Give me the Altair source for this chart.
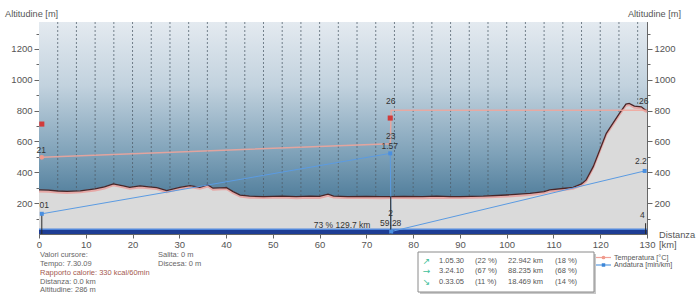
import altair as alt
import pandas as pd

FONT = "Liberation Sans"

# ---------------- data ----------------
profile_km = [0, 2, 4, 6, 8.8, 12, 14, 15.9, 18, 19.4, 21.6, 23.5, 25.2, 27.3, 30.1, 32.3,
              34.4, 36.1, 37.2, 40.1, 41.5, 43, 45, 48, 52, 55, 58, 60, 61.8, 63, 66, 70,
              73, 75, 78, 82, 85, 88, 90, 95, 100, 105, 108, 109.2, 112, 114.2, 116, 117,
              118.5, 119.9, 121.3, 122.7, 124.1, 125.5, 126.2, 127.3, 128.8, 129.5, 130]
profile_m = [286, 284, 279, 276, 280, 292, 305, 325, 312, 303, 312, 306, 301, 281, 303, 314,
             303, 318, 297, 301, 275, 252, 245, 243, 246, 242, 245, 244, 258, 246, 243, 244,
             242, 243, 244, 242, 245, 243, 243, 246, 253, 263, 275, 286, 295, 303, 325, 351,
             437, 545, 653, 717, 782, 842, 847, 829, 825, 808, 800]

temp_km = [0.6, 75.1, 75.3, 130]
temp_m = [497, 585, 803, 803]

pace_km = [0.6, 75.1, 75.3, 129.5]
pace_m = [131, 523, 16, 409]

hr_km = [0.6, 75.1]
hr_m = [713, 752]

cursor_km = [0.6, 75.2, 129.7]
cursor_top_m = [131, 244, 70]

grid_km = list(range(4, 129, 4))
x_ticks = list(range(0, 131, 10))
y_ticks = list(range(100, 1301, 100))

label_text = ["21", "01", "26", "23", "1.57", "2", "59.28", "2.2", "4", "26", "73 % 129.7 km"]
label_km = [0.5, 1.1, 75.2, 75.2, 75.0, 75.2, 75.2, 128.7, 129.0, 129.3, 64.8]
label_m = [545, 189, 861, 635, 571, 135, 72, 473, 124, 861, 60]

split_icons = ["\u2197", "\u2192", "\u2198"]
split_times = ["1.05.30", "3.24.10", "0.33.05"]
time_pct = ["(22 %)", "(67 %)", "(11 %)"]
split_km = ["22.942 km", "88.235 km", "18.469 km"]
km_pct = ["(18 %)", "(68 %)", "(14 %)"]

info_left = ["Valori cursore:", "Tempo: 7.30.09", "Rapporto calorie: 330 kcal/60min",
             "Distanza: 0.0 km", "Altitudine: 286 m"]
info_right = ["Salita: 0 m", "Discesa: 0 m"]

# ---------------- scales ----------------
W, H = 608, 212
X = alt.Scale(domain=[0, 130], nice=False, zero=False)
Y = alt.Scale(domain=[0, 1375], nice=False, zero=False)

axis_common = dict(labelFont=FONT, labelFontSize=9.5, labelColor="#555", domainColor="#666",
                   tickColor="#666", grid=False, title=None)
tick_cond = {"condition": {"test": "datum.value % 200 === 0", "value": 5}, "value": 3}
label_expr = "datum.value % 200 === 0 ? format(datum.value, 'd') : ''"

prof = pd.DataFrame({"km": profile_km, "m": profile_m})

bg = alt.Chart(pd.DataFrame({"a": [0], "b": [130], "c": [0], "d": [1375]})).mark_rect(
    fill=alt.LinearGradient(
        gradient="linear",
        stops=[alt.GradientStop(color="#e4eaf0", offset=0),
               alt.GradientStop(color="#c2d2de", offset=0.3),
               alt.GradientStop(color="#7fa2b9", offset=0.62),
               alt.GradientStop(color="#2c6184", offset=1)],
        x1=0, x2=0, y1=0, y2=1)
).encode(x=alt.X("a:Q", scale=X, axis=None), x2="b:Q",
         y=alt.Y("c:Q", scale=Y, axis=None), y2="d:Q")

grid = alt.Chart(pd.DataFrame({"km": grid_km})).mark_rule(
    color="#4f5d69", strokeDash=[2, 2], strokeWidth=1, opacity=0.75
).encode(x=alt.X("km:Q", scale=X, axis=None))

terrain = alt.Chart(prof).mark_area(color="#dadada", opacity=1).encode(
    x=alt.X("km:Q", scale=X,
            axis=alt.Axis(values=x_ticks, format="d", tickSize=4, labelPadding=1,
                          labelFlush=False, **axis_common)),
    y=alt.Y("m:Q", scale=Y,
            axis=alt.Axis(values=y_ticks, labelExpr=label_expr, tickSize=tick_cond,
                          labelPadding=2, **axis_common)),
)
terrain_pink = alt.Chart(prof).mark_line(color="#e6a8a6", strokeWidth=2, yOffset=1.5).encode(
    x=alt.X("km:Q", scale=X, axis=None), y=alt.Y("m:Q", scale=Y, axis=None))
terrain_line = alt.Chart(prof).mark_line(color="#4a2628", strokeWidth=1.3).encode(
    x=alt.X("km:Q", scale=X, axis=None), y=alt.Y("m:Q", scale=Y, axis=None))

bar_df = pd.DataFrame({"a": [0], "b": [130], "c": [0], "d": [30]})
blue_bar = alt.Chart(bar_df).mark_rect(color="#1e3d94").encode(
    x=alt.X("a:Q", scale=X, axis=None), x2="b:Q",
    y=alt.Y("c:Q", scale=Y, axis=None), y2="d:Q")
blue_top = alt.Chart(bar_df).mark_rule(color="#5288dc", strokeWidth=1.5).encode(
    x=alt.X("a:Q", scale=X, axis=None), x2="b:Q", y=alt.Y("d:Q", scale=Y, axis=None))

temp_df = pd.DataFrame({"km": temp_km, "m": temp_m})
temp_line = alt.Chart(temp_df).mark_line(color="#f2a49a", strokeWidth=1.5, opacity=0.85).encode(
    x=alt.X("km:Q", scale=X, axis=None), y=alt.Y("m:Q", scale=Y, axis=None))
temp_pt = alt.Chart(temp_df.iloc[[0]]).mark_circle(color="#f09a8c", size=22, opacity=1).encode(
    x=alt.X("km:Q", scale=X, axis=None), y=alt.Y("m:Q", scale=Y, axis=None))

hr_pts = alt.Chart(pd.DataFrame({"km": hr_km, "m": hr_m})).mark_square(
    color="#d23b3b", size=26, opacity=1).encode(
    x=alt.X("km:Q", scale=X, axis=None), y=alt.Y("m:Q", scale=Y, axis=None))

pace_df = pd.DataFrame({"km": pace_km, "m": pace_m})
pace_line = alt.Chart(pace_df).mark_line(color="#5b9be2", strokeWidth=1).encode(
    x=alt.X("km:Q", scale=X, axis=None),
    y=alt.Y("m:Q", scale=Y,
            axis=alt.Axis(orient="right", values=y_ticks, labelExpr=label_expr,
                          tickSize=tick_cond, labelPadding=2, **axis_common)))
pace_pts = alt.Chart(pace_df).mark_square(color="#4a8fe0", size=16, opacity=1).encode(
    x=alt.X("km:Q", scale=X, axis=None), y=alt.Y("m:Q", scale=Y, axis=None))

cur_df = pd.DataFrame({"km": cursor_km, "lo": [0, 0, 0], "hi": cursor_top_m})
cursors = alt.Chart(cur_df).mark_rule(color="#2a2a2a", strokeWidth=1).encode(
    x=alt.X("km:Q", scale=X, axis=None),
    y=alt.Y("lo:Q", scale=Y, axis=None), y2="hi:Q")

labels = alt.Chart(pd.DataFrame({"km": label_km, "m": label_m, "t": label_text})).mark_text(
    font=FONT, fontSize=8.5, color="#333", align="center", baseline="middle").encode(
    x=alt.X("km:Q", scale=X, axis=None), y=alt.Y("m:Q", scale=Y, axis=None), text="t:N")

# ---------------- annotations outside the plot ----------------
OX, OY = 39, 22


def txt(s, x, y, align="left", color="#555", size=7.5):
    return alt.Chart(pd.DataFrame({"t": [s]})).mark_text(
        align=align, baseline="middle", fontSize=size, color=color, font=FONT
    ).encode(x=alt.value(x - OX), y=alt.value(y - OY), text="t:N")


extras = [
    txt("Altitudine [m]", 5, 14.3, size=9.2, color="#555"),
    txt("Altitudine [m]", 681, 14.3, align="right", size=9.2, color="#555"),
    txt("Distanza", 659, 235, size=9.3, color="#555"),
    txt("[km]", 659, 245, size=9.3, color="#555"),
]

left_ys = [255, 264, 272.7, 281.7, 290.3]
for s, yy in zip(info_left, left_ys):
    col = "#a55a4f" if s.startswith("Rapporto") else "#666"
    extras.append(txt(s, 40, yy, color=col))
for s, yy in zip(info_right, [255, 264]):
    extras.append(txt(s, 158, yy, color="#666"))

one = pd.DataFrame({"k": [0]})
shadow = alt.Chart(one).mark_rect(color="#c8c8c8").encode(
    x=alt.value(420 - OX), x2=alt.value(596 - OX), y=alt.value(254 - OY), y2=alt.value(294 - OY))
box = alt.Chart(one).mark_rect(fill="white", stroke="#8a8a8a", strokeWidth=1).encode(
    x=alt.value(418 - OX), x2=alt.value(594 - OX), y=alt.value(252 - OY), y2=alt.value(292 - OY))
extras = [shadow, box] + extras

row_ys = [260.7, 271.2, 281.7]
for i, yy in enumerate(row_ys):
    extras.append(alt.Chart(pd.DataFrame({"t": [split_icons[i]]})).mark_text(
        align="center", baseline="middle", fontSize=9, color="#3fbf9a", font="DejaVu Sans"
    ).encode(x=alt.value(426.5 - OX), y=alt.value(yy - OY), text="t:N"))
    extras.append(txt(split_times[i], 439, yy))
    extras.append(txt(time_pct[i], 475, yy))
    extras.append(txt(split_km[i], 508, yy))
    extras.append(txt(km_pct[i], 555, yy))

# right legend
extras.append(alt.Chart(one).mark_rule(color="#f2a49a", strokeWidth=1.2).encode(
    x=alt.value(596 - OX), x2=alt.value(611 - OX), y=alt.value(257.5 - OY)))
extras.append(alt.Chart(one).mark_circle(color="#f09a8c", size=14, opacity=1).encode(
    x=alt.value(603.5 - OX), y=alt.value(257.5 - OY)))
extras.append(alt.Chart(one).mark_rule(color="#5b9be2", strokeWidth=1.2).encode(
    x=alt.value(596 - OX), x2=alt.value(611 - OX), y=alt.value(265 - OY)))
extras.append(alt.Chart(one).mark_square(color="#3c86d8", size=12, opacity=1).encode(
    x=alt.value(603.5 - OX), y=alt.value(265 - OY)))
extras.append(txt("Temperatura [\u00b0C]", 614, 257.5, size=7.2))
extras.append(txt("Andatura [min/km]", 614, 265, size=7.2))

chart = alt.layer(
    bg, grid, terrain, terrain_pink, terrain_line, blue_bar, blue_top,
    temp_line, temp_pt, hr_pts, pace_line, cursors, pace_pts, labels, *extras
).resolve_axis(y="independent", x="independent").properties(
    width=W, height=H,
    autosize=alt.AutoSizeParams(type="none"),
    padding={"left": OX, "top": OY, "right": 700 - OX - W, "bottom": 294 - OY - H},
    background="white",
).configure_view(stroke="#4a4a4a", strokeWidth=1)

chart.save("out.html", embed_options={"renderer": "svg", "actions": False})
